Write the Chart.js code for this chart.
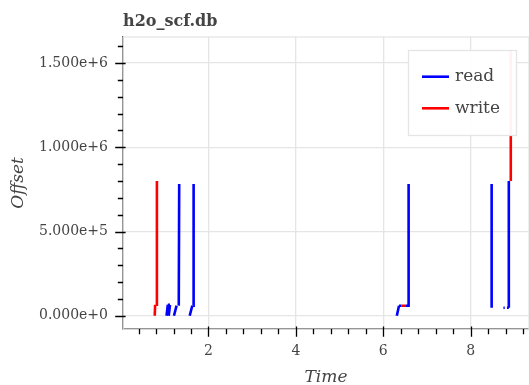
<!DOCTYPE html>
<html>
<head>
<meta charset="utf-8">
<script src="https://cdn.jsdelivr.net/npm/chart.js@4/dist/chart.umd.min.js"></script>
<style>
  html, body { margin: 0; padding: 0; background: #fff; }
  #wrap { width: 529px; height: 385px; }
</style>
</head>
<body>
<div id="wrap"><canvas id="ioChart"></canvas></div>
<script>
const chartTitle = 'h2o_scf.db';
const seriesNames = ['read', 'write'];

// one entry per i/o op: start time, end time, start offset, end offset
const readT0 = [1.04, 1.07, 1.09, 1.21, 1.32, 1.57, 1.65, 6.31, 6.36, 6.52, 6.575, 8.48, 8.75, 8.83, 8.873];
const readT1 = [1.07, 1.12, 1.12, 1.27, 1.33, 1.63, 1.66, 6.36, 6.41, 6.575, 6.58, 8.48, 8.78, 8.873, 8.873];
const readY0 = [0, 65000, 0, 0, 60000, 0, 60000, 0, 59000, 59000, 59000, 47000, 47000, 47000, 47000];
const readY1 = [65000, 65000, 65000, 60000, 782000, 60000, 782000, 59000, 59000, 59000, 782000, 782000, 47000, 47000, 800000];

const writeT0 = [0.77, 0.81, 6.41, 8.918];
const writeT1 = [0.78, 0.82, 6.52, 8.918];
const writeY0 = [0, 65000, 59000, 800000];
const writeY1 = [65000, 800000, 59000, 1576000];

const xMajor = [2, 4, 6, 8];
const xMinor = [0.4, 0.8, 1.2, 1.6, 2.4, 2.8, 3.2, 3.6, 4.4, 4.8, 5.2, 5.6, 6.4, 6.8, 7.2, 7.6, 8.4, 8.8, 9.2];
const yMajor = [0, 500000, 1000000, 1500000];
const yMinor = [100000, 200000, 300000, 400000, 600000, 700000, 800000, 900000,
                1100000, 1200000, 1300000, 1400000, 1600000];

function segments(t0, t1, y0, y1) {
    var pts = [];
    for (var i = 0; i < t0.length; i++) {
        pts.push({x: t0[i], y: y0[i]});
        pts.push({x: t1[i], y: y1[i]});
        pts.push({x: t1[i], y: null}); // break the line
    }
    return pts;
}

const serif = "'DejaVu Serif', serif";
const textGrey = '#444444';

// title, frame outline, tick marks and legend drawn the bokeh way
const bokehBits = {
    id: 'bokehBits',
    beforeDatasetsDraw(chart) {
        const {ctx, chartArea: a} = chart;
        ctx.save();
        ctx.strokeStyle = '#e5e5e5';
        ctx.lineWidth = 1.3;
        ctx.strokeRect(a.left, a.top, a.right - a.left, a.bottom - a.top);
        ctx.restore();
    },
    afterDraw(chart) {
        const {ctx, chartArea: a, scales: {x, y}} = chart;
        ctx.save();
        // title
        ctx.fillStyle = textGrey;
        ctx.font = "bold 16px " + serif;
        ctx.textAlign = 'left';
        ctx.textBaseline = 'alphabetic';
        ctx.fillText(chartTitle, a.left, 26);

        // tick marks
        ctx.strokeStyle = '#000';
        ctx.lineWidth = 1.3;
        ctx.beginPath();
        xMajor.forEach(function(v) {
            var px = Math.round(x.getPixelForValue(v)) + 0.5;
            ctx.moveTo(px, a.bottom - 2.6); ctx.lineTo(px, a.bottom + 7.8);
        });
        xMinor.forEach(function(v) {
            var px = Math.round(x.getPixelForValue(v)) + 0.5;
            ctx.moveTo(px, a.bottom); ctx.lineTo(px, a.bottom + 5.2);
        });
        yMajor.forEach(function(v) {
            var py = Math.round(y.getPixelForValue(v)) + 0.5;
            ctx.moveTo(a.left - 7.8, py); ctx.lineTo(a.left + 2.6, py);
        });
        yMinor.forEach(function(v) {
            var py = Math.round(y.getPixelForValue(v)) + 0.5;
            ctx.moveTo(a.left - 5.2, py); ctx.lineTo(a.left, py);
        });
        ctx.stroke();

        // legend, top right inside the plot
        var w = 108, h = 85;
        var lx = a.right - 13 - w, ly = a.top + 13;
        ctx.fillStyle = 'rgba(255,255,255,0.95)';
        ctx.fillRect(lx, ly, w, h);
        ctx.strokeStyle = '#e5e5e5';
        ctx.lineWidth = 1.3;
        ctx.strokeRect(lx + 0.5, ly + 0.5, w, h);
        ctx.font = "17px " + serif;
        ctx.textBaseline = 'middle';
        chart.data.datasets.forEach(function(ds, i) {
            var ry = ly + 26.7 + i * 31.6;
            ctx.strokeStyle = ds.borderColor;
            ctx.lineWidth = 2.6;
            ctx.beginPath();
            ctx.moveTo(lx + 14, ry); ctx.lineTo(lx + 41, ry);
            ctx.stroke();
            ctx.fillStyle = textGrey;
            ctx.fillText(ds.label, lx + 47, ry);
        });
        ctx.restore();
    }
};

const data = {
    datasets: [{
        label: seriesNames[0],
        data: segments(readT0, readT1, readY0, readY1),
        borderColor: '#0000ff',
        borderWidth: 2.6,
        pointRadius: 0,
        spanGaps: false,
        tension: 0,
        order: 1
    }, {
        label: seriesNames[1],
        data: segments(writeT0, writeT1, writeY0, writeY1),
        borderColor: '#ff0000',
        borderWidth: 2.6,
        pointRadius: 0,
        spanGaps: false,
        tension: 0,
        order: 0
    }]
};

const config = {
    type: 'line',
    data: data,
    options: {
        responsive: true,
        maintainAspectRatio: false,
        animation: false,
        layout: {padding: {top: 37, left: 0, right: 0, bottom: 0}, autoPadding: false},
        plugins: {legend: {display: false}, tooltip: {enabled: false}},
        scales: {
            x: {
                type: 'linear',
                min: 0.044,
                max: 9.335,
                afterBuildTicks: function(scale) { scale.ticks = xMajor.map(function(v) { return {value: v}; }); },
                afterFit: function(scale) { scale.height = 56; },
                grid: {color: '#e5e5e5', lineWidth: 1.3, drawTicks: false},
                border: {color: '#000', width: 1.3},
                ticks: {padding: 14, color: textGrey, font: {family: serif, size: 14}, maxRotation: 0},
                title: {display: true, text: 'Time', color: textGrey,
                        font: {family: serif, size: 17, style: 'italic', lineHeight: 1},
                        padding: {top: 0, bottom: -1}}
            },
            y: {
                type: 'linear',
                min: -78800,
                max: 1654800,
                afterBuildTicks: function(scale) { scale.ticks = yMajor.map(function(v) { return {value: v}; }); },
                afterFit: function(scale) { scale.width = 123; },
                grid: {color: '#e5e5e5', lineWidth: 1.3, drawTicks: false},
                border: {color: '#000', width: 1.3},
                ticks: {padding: 15, color: textGrey, font: {family: serif, size: 14},
                        callback: function(v) { return Number(v).toExponential(3); }},
                title: {display: true, text: 'Offset', color: textGrey,
                        font: {family: serif, size: 17, style: 'italic', lineHeight: 1},
                        padding: {top: 10, bottom: 0}}
            }
        }
    },
    plugins: [bokehBits]
};

var myChart = new Chart(document.getElementById('ioChart'), config);
</script>
</body>
</html>
